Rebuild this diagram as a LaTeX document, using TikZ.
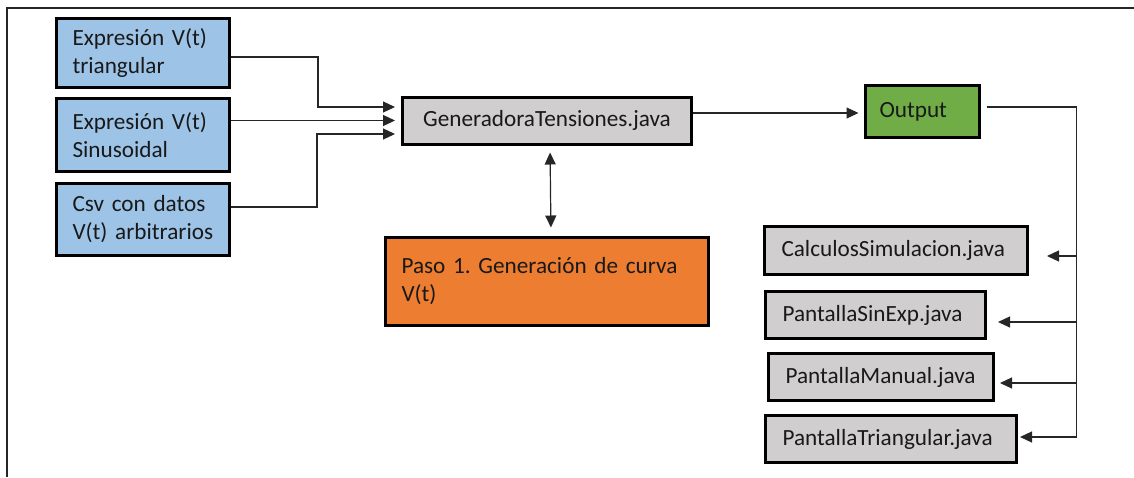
\documentclass[tikz,border=0pt]{standalone}
\usepackage{fontspec}
\setmainfont{Carlito}
\frenchspacing
\usetikzlibrary{arrows.meta, positioning, calc}
\definecolor{inblue}{RGB}{157,195,230}
\definecolor{javagray}{RGB}{208,206,206}
\definecolor{pasoorange}{RGB}{237,125,49}
\definecolor{outgreen}{RGB}{112,173,71}
\tikzstyle{block}=[draw,rectangle,line width=1.5pt,inner xsep=8pt,inner ysep=0pt,
  align=left,text=black!90,font=\fontsize{11.6}{14}\selectfont]
\tikzstyle{conn}=[line width=0.6pt,draw=black!85]

\begin{document}
\begin{tikzpicture}[x=0.5pt,y=-0.5pt,>={Triangle[length=6pt,width=5.5pt]}]
  \useasboundingbox (0,0) rectangle (1134,477);
  \draw[line width=1pt,black!85] (1134,7.5) -- (7,7.5) -- (7,477);

  % inputs
  \node[block,fill=inblue,text width=70.5pt,minimum height=34.5pt] (vtri) at (143,53) {Expresión V(t)\\triangular};
  \node[block,fill=inblue,text width=70.5pt,minimum height=36.5pt,below=4pt of vtri] (vsin) {Expresión V(t)\\Sinusoidal};
  \node[block,fill=inblue,text width=70.5pt,minimum height=36pt,below=4.5pt of vsin] (vcsv) {Csv con datos\\V(t) arbitrarios};

  \node[block,fill=javagray,align=center,text width=128.5pt,minimum height=23.5pt] (gen) at (547,120.5) {GeneradoraTensiones.java};
  \node[block,fill=pasoorange,text width=145.5pt,minimum height=44pt,below=45pt of gen] (paso) {Paso 1. Generación de curva\\V(t)};
  \node[block,fill=outgreen,text width=42.5pt,minimum height=26pt,inner xsep=7.25pt] (out) at (922,111.5) {Output};

  % outputs
  \node[block,fill=javagray,text width=114.5pt,minimum height=24pt,inner xsep=8.5pt] (calcsim) at (896,250.5) {CalculosSimulacion.java};
  \node[block,fill=javagray,text width=93pt,minimum height=23.5pt,inner xsep=8.5pt] (sinexp) at (875.5,315) {PantallaSinExp.java};
  \node[block,fill=javagray,text width=95.5pt,minimum height=23.5pt,inner xsep=8.5pt] (manual) at (881,377) {PantallaManual.java};
  \node[block,fill=javagray,text width=108.5pt,minimum height=23.5pt,inner xsep=8.5pt] (trian) at (891,439) {PantallaTriangular.java};

  \draw[conn,->,shorten >=3pt] ($(vtri.east)+(0,4)$) -- ++(87,0) |- ($(gen.west)+(0,-13.5)$);
  \draw[conn,->,shorten >=3pt] (vsin.east |- gen.west) -- (gen.west);
  \draw[conn,->,shorten >=3pt] ($(vcsv.east)+(0,-12.5)$) -- ++(86,0) |- ($(gen.west)+(0,13.5)$);
  \draw[conn,<->,shorten <=3.5pt,shorten >=4pt] ($(gen.south)+(3,0)$) -- ($(paso.north)+(4,0)$);

  \coordinate (g2o) at ($(gen.east)+(0,-7.5)$);
  \draw[conn,->,shorten >=2.5pt] (g2o) -- (g2o -| out.west);

  \coordinate (bus) at ($(out.east)+(96,-4.5)$);
  \draw[conn,shorten <=3pt] ($(out.east)+(0,-4.5)$) -| ($(bus |- trian.east)+(0,-2)$);
  \foreach \n/\dy/\gap in {calcsim/5.5/9,sinexp/7/5.5,manual/6/2.5,trian/-2/1}
    \draw[conn,->,shorten >=\gap pt] ($(bus |- \n.east)+(0,\dy)$) -- ($(\n.east)+(0,\dy)$);
\end{tikzpicture}
\end{document}
